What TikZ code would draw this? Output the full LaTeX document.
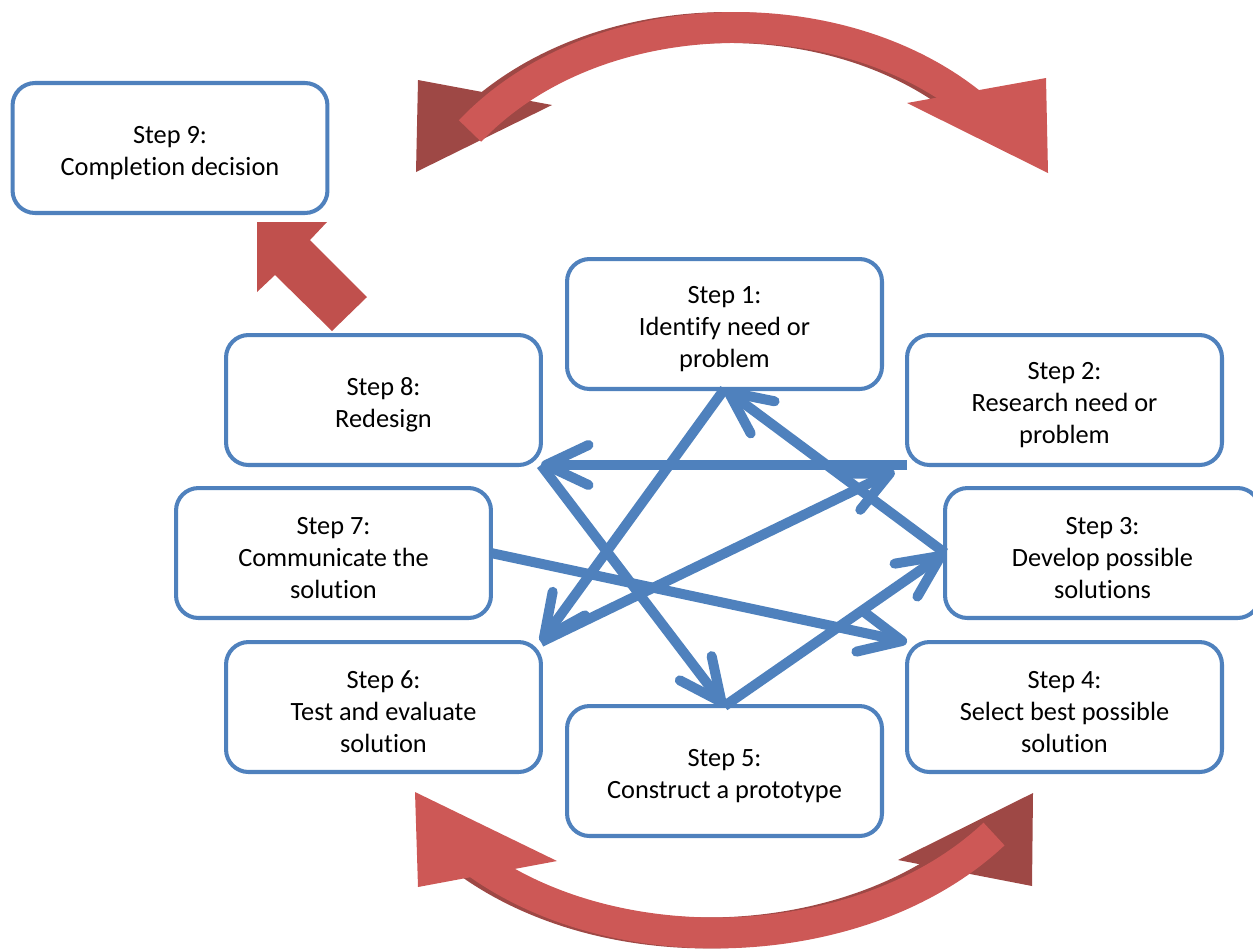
\documentclass[tikz,border=0pt]{standalone}
\usepackage{fontspec}
\setmainfont{Carlito}[Ligatures=NoCommon]
\usepackage{tikz}
\usetikzlibrary{arrows.meta}
\definecolor{boxblue}{RGB}{79,129,189}
\definecolor{redlight}{RGB}{205,88,86}
\definecolor{reddark}{RGB}{158,72,69}
\definecolor{redblock}{RGB}{192,80,77}
\newcommand{\topgap}{\rule{0pt}{15.5pt}}

\begin{document}
\begin{tikzpicture}[x=0.02cm,y=-0.02cm,
  font=\fontsize{15}{18.4}\selectfont,
  st/.style={draw=boxblue,line width=2.3pt,rounded corners=0.45cm,fill=white,
    minimum width=6.3cm,minimum height=2.6cm,align=center,inner sep=0pt,outer sep=0pt},
  e/.style={boxblue,line width=5.7pt,
    -{Straight Barb[length=8.5mm,width=8mm,round]}},
  band/.style={line width=17.6pt}]
  \useasboundingbox (0,0) rectangle (1253,951);

  \begin{scope}[xshift=-0.16cm]
    \draw[reddark,band] (470,131) .. controls (600,-6) and (865,-6) .. (995,125);
    \draw[reddark,band] (460,850) .. controls (600,966) and (860,960) .. (994,834);
  \end{scope}
  \fill[reddark] (418,80) -- (416,172) -- (552,105) -- cycle;
  \fill[reddark] (1033,793) -- (898,860) -- (1032,886) -- cycle;
  \draw[redlight,band] (470,131) .. controls (600,-6) and (865,-6) .. (995,125);
  \draw[redlight,band] (460,850) .. controls (600,966) and (860,960) .. (994,834);
  \fill[redlight] (907,103) -- (1046,78) -- (1048,173) -- cycle;
  \fill[redlight] (415,792) -- (557,861) -- (418,887) -- cycle;
  \fill[redblock] (257,222) -- (327,222) -- (310,240) -- (367,297) -- (332,331)
    -- (275,275) -- (257,292) -- cycle;

  \node[st] (s9) at (170,148) {\topgap Step 9:\\Completion decision};
  \node[st] (s1) at (724.5,324) {\topgap Step 1:\\Identify need or\\problem};
  \node[st] (s2) at (1064.5,400) {\topgap Step 2:\\Research need or\\problem};
  \node[st] (s3) at (1102.5,553) {\topgap Step 3:\\Develop possible\\solutions};
  \node[st] (s4) at (1064.5,707) {\topgap Step 4:\\Select best possible\\solution};
  \node[st] (s5) at (724.5,771) {\topgap Step 5:\\Construct a prototype};
  \node[st] (s6) at (383.5,707) {\topgap Step 6:\\Test and evaluate\\solution};
  \node[st] (s7) at (333.5,553) {\topgap Step 7:\\Communicate the\\solution};
  \node[st] (s8) at (383.5,400) {\topgap Step 8:\\Redesign};

  \draw[e] (s1.south) -- (s6.north east);
  \draw[e] (s2.south west) -- (s8.south east);
  \draw[e] (s8.south east) -- (s5.north);
  \draw[e] (s5.north) -- (s3.west);
  \draw[e] (s3.west) -- (s1.south);
  \draw[e,shorten >=8pt] (s6.north east) -- (s2.south west);
  \draw[e] (s7.east) -- (s4.north west);
\end{tikzpicture}
\end{document}
